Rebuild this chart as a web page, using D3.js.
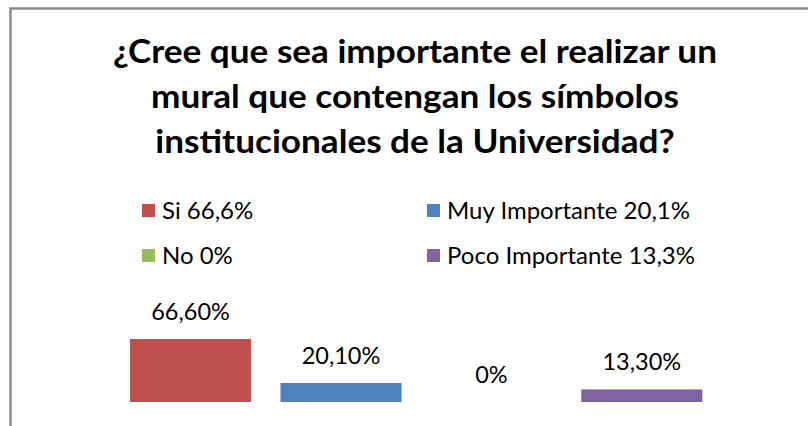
<!DOCTYPE html>
<html>
<head>
<meta charset="utf-8">
<script src="https://cdn.jsdelivr.net/npm/d3@7"></script>
<style>
  body { margin: 0; background: #fff; }
  svg { display: block; font-family: Lato, "Open Sans", sans-serif; }
</style>
</head>
<body>
<div id="chart"></div>
<script>
const width = 808, height = 426;

// Chart data
const titleLines = [
    "¿Cree que sea importante el realizar un",
    "mural que contengan los símbolos",
    "institucionales de la Universidad?"
];
const categories = ["Si", "Muy Importante", "No", "Poco Importante"];
const values = [66.6, 20.1, 0, 13.3];
const legendLabels = ["Si 66,6%", "Muy Importante 20,1%", "No 0%", "Poco Importante 13,3%"];
const colors = ["#C0504D", "#4F81BD", "#9BBB59", "#8064A2"];

const svg = d3.select("#chart")
    .append("svg")
    .attr("width", width)
    .attr("height", height);

svg.append("rect")
    .attr("width", width)
    .attr("height", height)
    .attr("fill", "#fff");

// Chart border (right/bottom edges fall outside the picture)
svg.append("rect")
    .attr("x", 10.5)
    .attr("y", 8.5)
    .attr("width", 900)
    .attr("height", 600)
    .attr("fill", "none")
    .attr("stroke", "#8c8c8c")
    .attr("stroke-width", 2.5);

// Title - widen glyphs a little so the first line spans ~604px like the original
const title = svg.append("g")
    .selectAll("text")
    .data(titleLines)
    .join("text")
    .attr("x", 415)
    .attr("y", (d, i) => 63 + i * 45)
    .attr("text-anchor", "middle")
    .attr("font-size", 32)
    .attr("font-weight", "bold")
    .attr("fill", "#000")
    .text(d => d);

const k = 604 / title.node().getComputedTextLength();
title.each(function () {
    d3.select(this)
        .attr("textLength", this.getComputedTextLength() * k)
        .attr("lengthAdjust", "spacingAndGlyphs");
});

// Legend: two columns, two rows
const legend = svg.append("g")
    .selectAll("g")
    .data(legendLabels)
    .join("g")
    .attr("transform", (d, i) => `translate(${i % 2 === 0 ? 142 : 427},${204 + Math.floor(i / 2) * 45})`);

legend.append("rect")
    .attr("width", 13)
    .attr("height", 13)
    .attr("fill", (d, i) => colors[i]);

legend.append("text")
    .attr("x", 20)
    .attr("y", 15)
    .attr("font-size", 24)
    .attr("fill", "#000")
    .text(d => d);

// Scales
const xScale = d3.scaleBand()
    .domain(categories)
    .range([115, 717.4])
    .paddingInner(0.195)
    .paddingOuter(0.1);

const yScale = d3.scaleLinear()
    .domain([0, 70])
    .range([402, 335.8]);

// Bars
svg.append("g")
    .selectAll("rect")
    .data(values)
    .join("rect")
    .attr("x", (d, i) => xScale(categories[i]))
    .attr("y", d => yScale(d))
    .attr("width", xScale.bandwidth())
    .attr("height", d => yScale(0) - yScale(d))
    .attr("fill", (d, i) => colors[i]);

// Data labels
const locale = d3.formatLocale({ decimal: ",", thousands: ".", grouping: [3], currency: ["", ""] });
const fmt = locale.format(".2f");

svg.append("g")
    .selectAll("text")
    .data(values)
    .join("text")
    .attr("x", (d, i) => xScale(categories[i]) + xScale.bandwidth() / 2)
    .attr("y", d => yScale(d) - 19)
    .attr("text-anchor", "middle")
    .attr("font-size", 23.5)
    .attr("fill", "#000")
    .text(d => d === 0 ? "0%" : fmt(d) + "%");
</script>
</body>
</html>
